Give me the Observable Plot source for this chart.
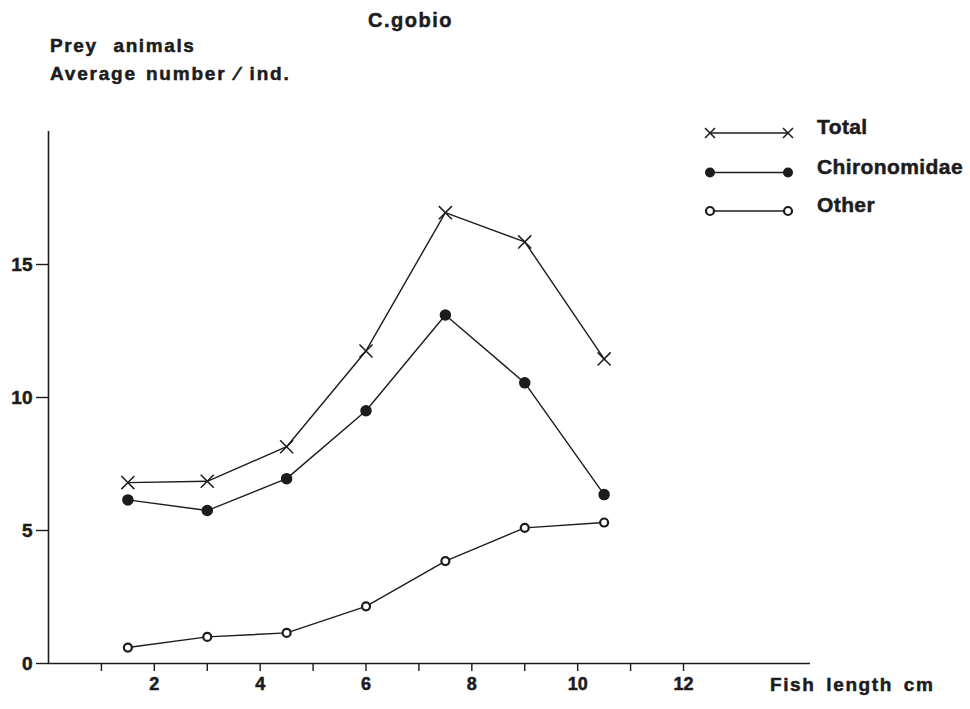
<!DOCTYPE html>
<html><head><meta charset="utf-8">
<script src="https://cdn.jsdelivr.net/npm/d3@7"></script>
<script src="https://cdn.jsdelivr.net/npm/@observablehq/plot@0.6"></script>
<style>
body{margin:0;background:#fff;}
#wrap{position:relative;width:970px;height:709px;font-family:"Liberation Sans",Arial,sans-serif;font-weight:bold;color:#1c1c1c;}
.t{position:absolute;white-space:nowrap;font-size:19px;letter-spacing:1.2px;line-height:1;-webkit-text-stroke:0.5px #1c1c1c;}
#wrap svg.lg{position:absolute;left:0;top:0;}
#wrap svg text{stroke:#1c1c1c;stroke-width:0.5px;}
</style></head><body>
<div id="wrap"></div>
<script>
// Data (C. gobio, prey animals, average number per individual)
const lengths = [1.5, 3, 4.5, 6, 7.5, 9, 10.5];
const total = [6.8, 6.85, 8.15, 11.75, 16.95, 15.85, 11.45];
const chironomidae = [6.15, 5.75, 6.95, 9.5, 13.1, 10.55, 6.35];
const other = [0.6, 1.0, 1.15, 2.15, 3.85, 5.1, 5.3];
const seriesNames = ["Total", "Chironomidae", "Other"];
const yTicks = [0, 5, 10, 15];
const xTicks = [1,2,3,4,5,6,7,8,9,10,11,12];
const xTickLabels = ["", "2", "", "4", "", "6", "", "8", "", "10", "", "12"];

const seriesValues = {Total: total, Chironomidae: chironomidae, Other: other};
const rows = seriesNames.flatMap(s => lengths.map((x, i) => ({series: s, x, y: seriesValues[s][i]})));
const ink = "#1c1c1c";

const chart = Plot.plot({
  width: 970, height: 709,
  marginLeft: 48, marginRight: 160, marginTop: 131, marginBottom: 46,
  style: {fontFamily: '"Liberation Sans", Arial, sans-serif', fontSize: "18px", fontWeight: "bold", color: ink, background: "#fff"},
  x: {domain: [0, 14.4]},
  y: {domain: [0, 20]},
  marks: [
    Plot.ruleX([0], {stroke: ink, strokeWidth: 1.6}),
    Plot.ruleY([0], {stroke: ink, strokeWidth: 1.6}),
    Plot.axisY({ticks: yTicks, tickSize: 12, tickPadding: 4, label: null, stroke: ink, strokeWidth: 1.4, fontSize: 19}),
    Plot.axisX({ticks: xTicks, tickSize: 8, tickPadding: 6, label: null, stroke: ink, strokeWidth: 1.4,
      tickFormat: d => xTickLabels[xTicks.indexOf(d)]}),
    Plot.line(rows, {x: "x", y: "y", z: "series", stroke: ink, strokeWidth: 1.4}),
    Plot.dot(rows.filter(d => d.series === "Total"), {x: "x", y: "y", symbol: "times", r: 6, stroke: ink, strokeWidth: 1.5, fill: "#fff"}),
    Plot.dot(rows.filter(d => d.series === "Chironomidae"), {x: "x", y: "y", r: 5, fill: ink, stroke: ink}),
    Plot.dot(rows.filter(d => d.series === "Other"), {x: "x", y: "y", r: 4, fill: "#fff", stroke: ink, strokeWidth: 2.2})
  ]
});
const wrap = document.getElementById("wrap");
wrap.appendChild(chart);

function addText(txt, left, top, extra) {
  const d = document.createElement("div");
  d.className = "t";
  d.textContent = txt;
  d.style.left = left + "px"; d.style.top = top + "px";
  if (extra) Object.assign(d.style, extra);
  wrap.appendChild(d);
}
addText("C.gobio", 368, 10, {fontSize: "20px", letterSpacing: "1.5px"});
addText("Prey animals", 50, 36, {letterSpacing: "1.6px", wordSpacing: "9px"});
addText("Average number ⁄ ind.", 50, 64, {letterSpacing: "1.8px", wordSpacing: "2px"});
addText("Fish length cm", 770, 675, {letterSpacing: "1.6px", wordSpacing: "4px"});

// Legend
const legY = [133, 172.5, 211];
const legTop = [116, 156, 194];
const ns = "http://www.w3.org/2000/svg";
const lg = document.createElementNS(ns, "svg");
lg.setAttribute("class", "lg"); lg.setAttribute("width", 970); lg.setAttribute("height", 260);
function el(tag, attrs) { const e = document.createElementNS(ns, tag); for (const k in attrs) e.setAttribute(k, attrs[k]); lg.appendChild(e); return e; }
seriesNames.forEach((s, i) => {
  const y = legY[i];
  el("line", {x1: 710, x2: 788, y1: y, y2: y, stroke: ink, "stroke-width": 1.4});
  [710, 788].forEach(x => {
    if (s === "Total") {
      el("path", {d: `M${x-5},${y-5}L${x+5},${y+5}M${x-5},${y+5}L${x+5},${y-5}`, stroke: ink, "stroke-width": 1.5, fill: "none"});
    } else if (s === "Chironomidae") {
      el("circle", {cx: x, cy: y, r: 5, fill: ink});
    } else {
      el("circle", {cx: x, cy: y, r: 4, fill: "#fff", stroke: ink, "stroke-width": 2.2});
    }
  });
  addText(s, 817, legTop[i], {fontSize: "21px", letterSpacing: "0.4px"});
});
wrap.appendChild(lg);
</script>
</body></html>
